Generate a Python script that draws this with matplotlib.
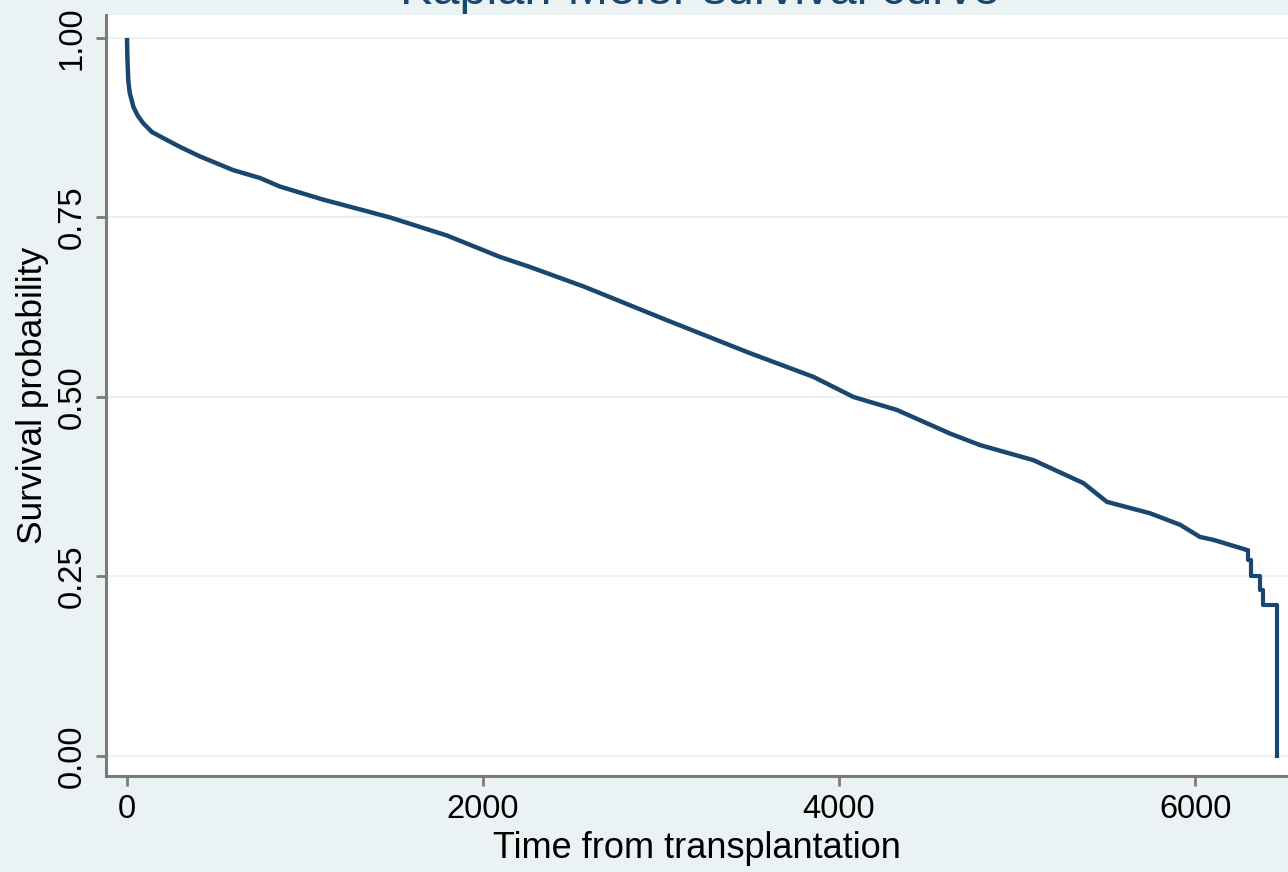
import matplotlib
matplotlib.use("Agg")
import matplotlib.pyplot as plt

plt.rcParams['font.family'] = ['Liberation Sans', 'DejaVu Sans']

# Kaplan-Meier estimate: dense early/middle part of the curve
km_time = [0, 2, 7, 15, 36, 60, 92, 140, 223, 300, 410, 596, 747, 860, 1100,
           1328, 1478, 1796, 2096, 2264, 2564, 3032, 3388, 3500, 3856, 4081,
           4324, 4624, 4792, 5092, 5373, 5504, 5747, 5916, 6028, 6103, 6290]
km_surv = [1.0, 0.974, 0.941, 0.924, 0.904, 0.892, 0.881, 0.869, 0.858, 0.848,
           0.835, 0.816, 0.805, 0.793, 0.775, 0.760, 0.750, 0.725, 0.695, 0.681,
           0.654, 0.607, 0.572, 0.561, 0.528, 0.500, 0.482, 0.449, 0.433, 0.412,
           0.380, 0.354, 0.338, 0.322, 0.305, 0.301, 0.287]

# last few events, drawn as explicit steps
tail_time = [6290, 6298, 6315, 6365, 6382, 6461]
tail_surv = [0.287, 0.273, 0.250, 0.231, 0.210, 0.0]

yticks = [0.0, 0.25, 0.50, 0.75, 1.00]
ytick_labels = ["0.00", "0.25", "0.50", "0.75", "1.00"]
xticks = [0, 2000, 4000, 6000]

bg = "#eaf2f3"
navy = "#1a476f"
axis_grey = "#7a7a7a"

fig = plt.figure(figsize=(12.88, 8.72), dpi=100, facecolor=bg)
ax = fig.add_axes([106 / 1288, 1 - 776 / 872, 1 - 106 / 1288, (776 - 15) / 872])
ax.set_facecolor("white")

for y in yticks:
    ax.axhline(y, color=bg, lw=1.4, zorder=1)

ax.plot(km_time, km_surv, color=navy, lw=3.2, solid_joinstyle="round",
        solid_capstyle="butt", zorder=3)
ax.step(tail_time, tail_surv, where="post", color=navy, lw=3.0, zorder=3)

ax.set_xlim(-118, 6522)
ax.set_ylim(-0.0279, 1.032)

ax.set_xticks(xticks)
ax.set_xticklabels([str(x) for x in xticks])
ax.set_yticks(yticks)
ax.set_yticklabels(ytick_labels, rotation=90, va="center")

for side in ("top", "right"):
    ax.spines[side].set_visible(False)
for side in ("left", "bottom"):
    ax.spines[side].set_color(axis_grey)
    ax.spines[side].set_linewidth(2.2)

ax.tick_params(axis="both", direction="out", length=7, width=2,
               color=axis_grey, labelsize=23.5, labelcolor="black", pad=6)

ax.set_xlabel("Time from transplantation", fontsize=26, labelpad=4)
ax.set_ylabel("Survival probability", fontsize=25.5, labelpad=6)

fig.text(700 / 1288, 1 - 4 / 872, "Kaplan-Meier survival curve",
         ha="center", va="baseline", fontsize=35, color=navy)

fig.savefig("out.png", dpi=100, facecolor=bg)
